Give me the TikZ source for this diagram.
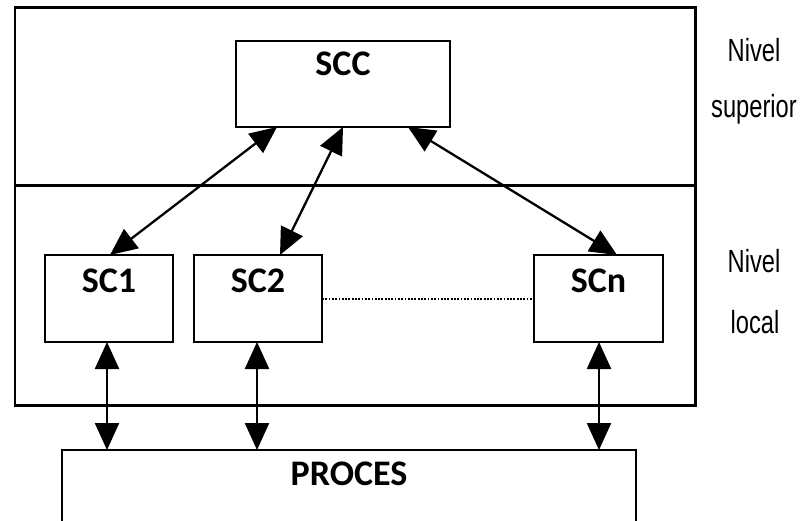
\documentclass[tikz,border=0pt]{standalone}
\usepackage{fontspec}
\setmainfont{Liberation Sans}
\newfontfamily\boxfont{Carlito}
\newfontfamily\sidefont[FakeStretch=0.74]{Liberation Sans}
\usetikzlibrary{arrows.meta}

\begin{document}
\begin{tikzpicture}[x=1pt, y=-1pt,
  frame/.style={draw, line width=2.4pt, inner sep=0pt, outer sep=0pt, anchor=north west},
  unit/.style={frame, font=\boxfont\bfseries\fontsize{36}{36}\selectfont},
  link/.style={line width=2.3pt,
    {Triangle[length=27pt,width=24pt]}-{Triangle[length=27pt,width=24pt]}},
  dotline/.style={line width=2pt, dash pattern=on 1.8pt off 1.5pt},
  level/.style={font=\sidefont\fontsize{32}{32}\selectfont, anchor=base, inner sep=0pt},
]
  \useasboundingbox (0,0) rectangle (802,521);
  \fill[white] (0,0) rectangle (802,521);
  \clip (0,0) rectangle (802,521);

  % control system frame and the line between the two levels
  \node[frame, minimum width=680.5pt, minimum height=398pt] (sys) at (15,7.5) {};
  \draw[line width=2.4pt] ([yshift=-178.2pt]sys.north west) -- ([yshift=-178.2pt]sys.north east);

  % central computer and local computers
  \node[unit, minimum width=214pt, text height=35pt, text depth=51pt] (SCC) at (236,41) {SCC};
  \node[unit, minimum width=128pt, text height=37pt, text depth=50pt] (SC1) at (45,255) {SC1};
  \node[unit, minimum width=128pt, text height=37pt, text depth=50pt] (SC2) at (194,255) {SC2};
  \node[unit, minimum width=129pt, text height=37pt, text depth=50pt] (SCn) at (534,255) {SCn};

  % process (runs below the lower edge)
  \node[unit, minimum width=574pt, text height=35pt, text depth=80pt] (PROC) at (62,450) {PROCES};

  % level captions
  \node[level] (supA) at (754,62) {Nivel};
  \node[level] (supB) at (754,118) {superior};
  \node[level] (locA) at (754,272) {Nivel};
  \node[level] (locB) at (755,333) {local};

  % links between levels
  \draw[link] ([xshift=41pt]SCC.south west) -- ([xshift=65pt]SC1.north west);
  \draw[link] ([xshift=107pt]SCC.south west) -- ([xshift=86pt]SC2.north west);
  \draw[link] ([xshift=172pt]SCC.south west) -- ([xshift=83pt]SCn.north west);

  % links to the process
  \draw[link] ([xshift=62pt]SC1.south west) -- ([xshift=45pt]PROC.north west);
  \draw[link] ([xshift=63pt]SC2.south west) -- ([xshift=195pt]PROC.north west);
  \draw[link] ([xshift=65pt]SCn.south west) -- ([xshift=537pt]PROC.north west);

  % further local computers
  \draw[dotline] (SC2.east) -- (SCn.west);
\end{tikzpicture}
\end{document}
